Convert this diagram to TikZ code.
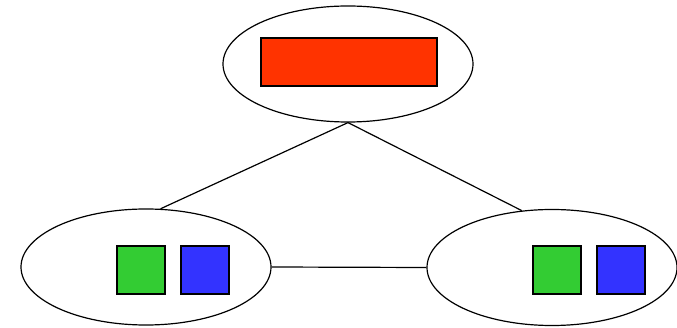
\documentclass[tikz,border=0pt]{standalone}
\usetikzlibrary{shapes.geometric}
\definecolor{cred}{RGB}{255,51,0}
\definecolor{cgreen}{RGB}{51,204,51}
\definecolor{cblue}{RGB}{51,51,255}
\tikzset{
  oval/.style={draw=black, line width=1.2pt, ellipse, minimum width=250pt, minimum height=116pt, inner sep=0pt},
  box/.style={draw=black, line width=1.2pt, rectangle, inner sep=0pt},
  redbox/.style={box, fill=cred, minimum width=176pt, minimum height=48pt},
  gbox/.style={box, fill=cgreen, minimum width=48pt, minimum height=48pt},
  bbox/.style={box, fill=cblue, minimum width=48pt, minimum height=48pt},
  link/.style={draw=black, line width=1.2pt}
}
\begin{document}
\begin{tikzpicture}[x=1pt,y=-1pt]
\useasboundingbox (0,0) rectangle (677,328);
\node[oval] (top) at (348,64) {};
\node[oval] (left) at (146,267) {};
\node[oval] (right) at (552,267.5) {};
\node[redbox] (r) at (349,62) {};
\node[gbox] (lg) at (141,270) {};
\node[bbox] (lb) at (205,270) {};
\node[gbox] (rg) at (557,270) {};
\node[bbox] (rb) at (621,270) {};
\draw[link] (top.south) -- (left.76);
\draw[link] (top.south) -- (right.118);
\draw[link] (left.east) -- (right.west);
\end{tikzpicture}
\end{document}
